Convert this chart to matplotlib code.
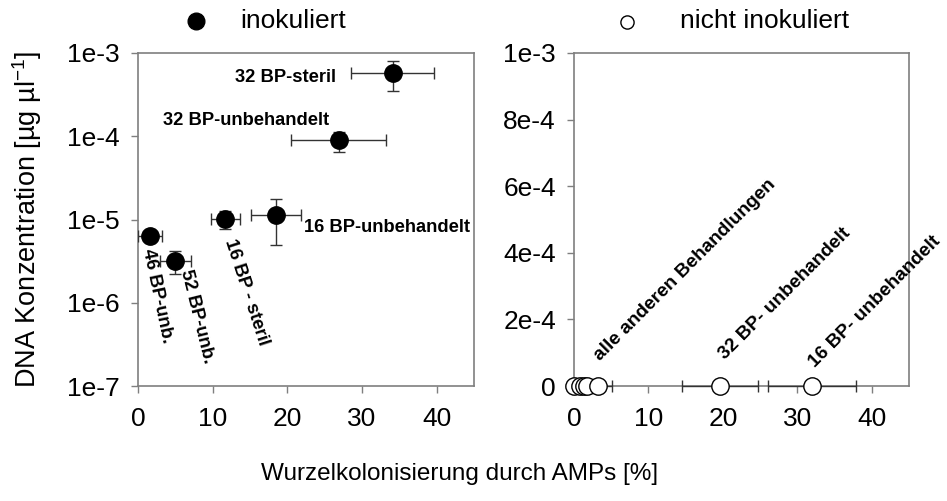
import matplotlib
matplotlib.use("Agg")
import matplotlib.pyplot as plt
from matplotlib.ticker import FixedLocator, FixedFormatter, NullLocator

plt.rcParams['font.family'] = ['Liberation Sans', 'DejaVu Sans']

# ---- data: inokuliert (left, log scale) ----
inok_labels = ["32 BP-steril", "32 BP-unbehandelt", "16 BP - steril",
               "16 BP-unbehandelt", "46 BP-unb.", "52 BP-unb."]
inok_x = [34.1, 26.9, 11.7, 18.5, 1.6, 5.0]
inok_xerr = [5.6, 6.35, 1.9, 3.3, 1.6, 2.05]
inok_y = [5.8e-4, 8.9e-5, 1.02e-5, 1.13e-5, 6.3e-6, 3.2e-6]
inok_yerr = [2.3e-4, 2.4e-5, 2.5e-6, 6.3e-6, 0.6e-6, 1.0e-6]

# ---- data: nicht inokuliert (right, linear scale) ----
nicht_x = [0.0, 0.8, 1.3, 1.8, 3.2, 19.6, 32.0]
nicht_xerr = [0.0, 0.0, 0.0, 0.0, 1.9, 5.15, 5.9]
nicht_y = [0, 0, 0, 0, 0, 0, 0]

left_yticks = [1e-7, 1e-6, 1e-5, 1e-4, 1e-3]
left_yticklabels = ["1e-7", "1e-6", "1e-5", "1e-4", "1e-3"]
right_yticks = [0, 2e-4, 4e-4, 6e-4, 8e-4, 1e-3]
right_yticklabels = ["0", "2e-4", "4e-4", "6e-4", "8e-4", "1e-3"]
xticks = [0, 10, 20, 30, 40]

W, H = 947, 501
fig = plt.figure(figsize=(W / 100, H / 100), dpi=100)

spine_c = '#7f7f7f'
err_c = '#333333'
tick_fs = 19

def px_axes(x0, x1, y0, y1):
    return fig.add_axes([x0 / W, 1 - y1 / H, (x1 - x0) / W, (y1 - y0) / H])

axL = px_axes(138, 474, 53, 386)
axR = px_axes(574, 909, 53, 386)

for ax in (axL, axR):
    for s in ax.spines.values():
        s.set_color(spine_c)
        s.set_linewidth(1.2)
    ax.set_xlim(0, 45)
    ax.xaxis.set_major_locator(FixedLocator(xticks))
    ax.xaxis.set_major_formatter(FixedFormatter([str(t) for t in xticks]))
    ax.tick_params(axis='both', direction='out', length=5, width=1,
                   color=spine_c, labelsize=tick_fs, pad=8)
    ax.tick_params(axis='x', pad=10)

# ---- left panel ----
axL.set_yscale('log')
axL.set_ylim(1e-7, 1e-3)
axL.yaxis.set_major_locator(FixedLocator(left_yticks))
axL.yaxis.set_major_formatter(FixedFormatter(left_yticklabels))
axL.yaxis.set_minor_locator(NullLocator())
axL.errorbar(inok_x, inok_y, xerr=inok_xerr, yerr=inok_yerr, fmt='o',
             color='black', markersize=12.5, ecolor=err_c, elinewidth=1,
             capsize=4, capthick=1, zorder=3)

ann_fs = 13.2
axL.text(26.5, 5.06e-4, "32 BP-steril", ha='right', va='center',
         fontsize=ann_fs, fontweight='bold')
axL.text(3.35, 1.55e-4, "32 BP-unbehandelt", ha='left', va='center',
         fontsize=ann_fs, fontweight='bold')
axL.text(22.25, 8.0e-6, "16 BP-unbehandelt", ha='left', va='center',
         fontsize=ann_fs, fontweight='bold', clip_on=False)
axL.text(1.2, 4.4e-6, "46 BP-unb.", ha='left', va='center', rotation=-78,
         rotation_mode='anchor', fontsize=ann_fs, fontweight='bold')
axL.text(6.4, 2.5e-6, "52 BP-unb.", ha='left', va='center', rotation=-76,
         rotation_mode='anchor', fontsize=ann_fs, fontweight='bold')
axL.text(12.2, 5.75e-6, "16 BP - steril", ha='left', va='center', rotation=-72,
         rotation_mode='anchor', fontsize=ann_fs, fontweight='bold')

# ---- right panel ----
axR.set_ylim(0, 1e-3)
axR.yaxis.set_major_locator(FixedLocator(right_yticks))
axR.yaxis.set_major_formatter(FixedFormatter(right_yticklabels))
eb = axR.errorbar(nicht_x, nicht_y, xerr=nicht_xerr, fmt='o',
                  markerfacecolor='white', markeredgecolor='black',
                  markersize=12.5, ecolor=err_c, elinewidth=1, capsize=4,
                  capthick=1, zorder=3, clip_on=False)
eb.lines[0].set_clip_on(False)
for c in eb.lines[1]:
    c.set_clip_on(False)
for c in eb.lines[2]:
    c.set_clip_on(False)

rot_fs = 13.8
axR.text(3.9, 6.5e-5, "alle anderen Behandlungen", ha='left', va='bottom',
         rotation=45, rotation_mode='anchor', fontsize=rot_fs, fontweight='bold')
axR.text(20.6, 7.0e-5, "32 BP- unbehandelt", ha='left', va='bottom',
         rotation=45, rotation_mode='anchor', fontsize=rot_fs, fontweight='bold')
axR.text(32.7, 4.6e-5, "16 BP- unbehandelt", ha='left', va='bottom',
         rotation=45, rotation_mode='anchor', fontsize=rot_fs, fontweight='bold',
         clip_on=False)

# ---- legend ----
fig.add_artist(plt.Line2D([196 / W], [1 - 21 / H], marker='o', color='black',
                          markersize=12, linestyle='none',
                          transform=fig.transFigure))
fig.text(240 / W, 1 - 21 / H, "inokuliert", ha='left', va='center', fontsize=19)
fig.add_artist(plt.Line2D([627 / W], [1 - 22 / H], marker='o',
                          markerfacecolor='white', markeredgecolor='black',
                          markeredgewidth=1, markersize=9.5, linestyle='none',
                          transform=fig.transFigure))
fig.text(680 / W, 1 - 21 / H, "nicht inokuliert", ha='left', va='center', fontsize=19)

# ---- axis labels ----
fig.text(27 / W, 1 - 219 / H, r"DNA Konzentration [µg µl$^{\mathregular{-1}}$]",
         rotation=90, ha='center', va='center', fontsize=19.5)
fig.text(460 / W, 1 - 474 / H, "Wurzelkolonisierung durch AMPs [%]",
         ha='center', va='center', fontsize=17.5)

fig.savefig("out.png", dpi=100)
